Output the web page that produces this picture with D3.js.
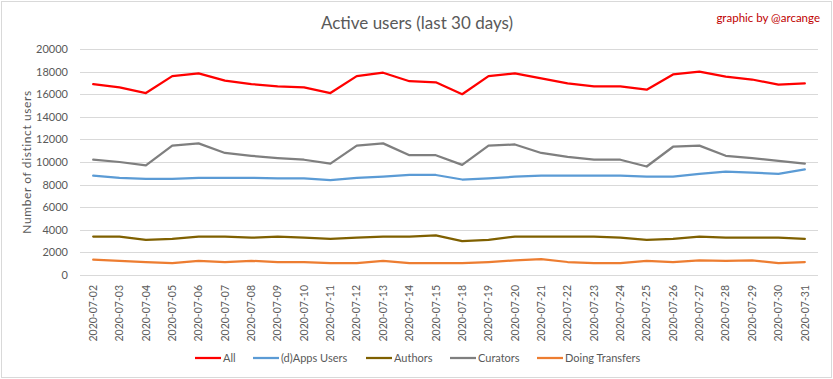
<!DOCTYPE html>
<html>
<head>
<meta charset="utf-8">
<script src="https://cdn.jsdelivr.net/npm/d3@7"></script>
<style>
  body { margin: 0; background: #fff; }
  svg { display: block; font-family: Lato, "Open Sans", sans-serif; }
</style>
</head>
<body>
<div id="chart"></div>
<script>
// Data
const dates = ["2020-07-02", "2020-07-03", "2020-07-04", "2020-07-05", "2020-07-06", "2020-07-07",
  "2020-07-08", "2020-07-09", "2020-07-10", "2020-07-11", "2020-07-12", "2020-07-13", "2020-07-14",
  "2020-07-15", "2020-07-18", "2020-07-19", "2020-07-20", "2020-07-21", "2020-07-22", "2020-07-23",
  "2020-07-24", "2020-07-25", "2020-07-26", "2020-07-27", "2020-07-28", "2020-07-29", "2020-07-30",
  "2020-07-31"];

const allUsers = [16900, 16600, 16100, 17600, 17850, 17200, 16900, 16700, 16600, 16100, 17600, 17900, 17150,
  17050, 16000, 17600, 17850, 17400, 16950, 16700, 16700, 16400, 17750, 18000, 17550, 17300, 16850, 16950];
const appsUsers = [8800, 8600, 8500, 8500, 8600, 8600, 8600, 8550, 8550, 8400, 8600, 8700, 8850,
  8850, 8450, 8550, 8700, 8800, 8800, 8800, 8800, 8700, 8700, 8950, 9150, 9050, 8950, 9350];
const authors = [3400, 3400, 3100, 3200, 3400, 3400, 3300, 3400, 3300, 3200, 3300, 3400, 3400,
  3500, 3000, 3100, 3400, 3400, 3400, 3400, 3300, 3100, 3200, 3400, 3300, 3300, 3300, 3200];
const curators = [10200, 10000, 9700, 11450, 11650, 10800, 10550, 10350, 10200, 9850, 11450, 11650, 10600,
  10600, 9750, 11450, 11550, 10800, 10450, 10200, 10200, 9600, 11350, 11450, 10550, 10350, 10100, 9850];
const transfers = [1350, 1250, 1150, 1050, 1250, 1150, 1250, 1150, 1150, 1050, 1050, 1250, 1050,
  1050, 1050, 1150, 1300, 1400, 1150, 1050, 1050, 1250, 1150, 1300, 1250, 1300, 1050, 1150];

const yTicks = [0, 2000, 4000, 6000, 8000, 10000, 12000, 14000, 16000, 18000, 20000];

const series = [
  { name: "All", values: allUsers, color: "#ff0000" },
  { name: "(d)Apps Users", values: appsUsers, color: "#5b9bd5" },
  { name: "Authors", values: authors, color: "#7f6000" },
  { name: "Curators", values: curators, color: "#7f7f7f" },
  { name: "Doing Transfers", values: transfers, color: "#ed7d31" }
];

const width = 833;
const height = 379;
const margin = { top: 49, right: 15, bottom: 104, left: 80 };

const svg = d3.select("#chart")
  .append("svg")
  .attr("width", width)
  .attr("height", height);

// Chart border
svg.append("rect")
  .attr("x", 1.5).attr("y", 1.5)
  .attr("width", width - 3).attr("height", height - 3)
  .attr("fill", "#fff")
  .attr("stroke", "#d9d9d9");

const x = d3.scaleBand()
  .domain(dates)
  .range([margin.left, width - margin.right]);

const y = d3.scaleLinear()
  .domain([0, 20000])
  .range([height - margin.bottom, margin.top]);

// Gridlines
svg.append("g")
  .selectAll("line")
  .data(yTicks)
  .enter()
  .append("line")
  .attr("x1", margin.left)
  .attr("x2", width - margin.right)
  .attr("y1", d => Math.round(y(d)) + 0.5)
  .attr("y2", d => Math.round(y(d)) + 0.5)
  .attr("stroke", "#d9d9d9");

// Y axis
const yAxis = svg.append("g")
  .attr("transform", `translate(${margin.left},0)`)
  .call(d3.axisLeft(y).tickValues(yTicks).tickSize(0).tickPadding(12).tickFormat(d3.format("d")));
yAxis.select(".domain").remove();
yAxis.selectAll("text")
  .attr("font-size", "11px")
  .attr("font-family", "Lato, sans-serif")
  .attr("fill", "#595959");

// X axis
const xAxis = svg.append("g")
  .attr("transform", `translate(0,${height - margin.bottom})`)
  .call(d3.axisBottom(x).tickSize(0));
xAxis.select(".domain").remove();
xAxis.selectAll("text")
  .attr("font-size", "10.5px")
  .attr("font-family", "Lato, sans-serif")
  .attr("fill", "#595959")
  .attr("text-anchor", "end")
  .attr("transform", "rotate(-90)")
  .attr("x", -10)
  .attr("y", 0)
  .attr("dy", "0.35em");

// Lines
const line = d3.line()
  .x((d, i) => x(dates[i]) + x.bandwidth() / 2)
  .y(d => y(d));

svg.append("g")
  .selectAll("path")
  .data(series)
  .enter()
  .append("path")
  .attr("fill", "none")
  .attr("stroke", d => d.color)
  .attr("stroke-width", 2.25)
  .attr("stroke-linejoin", "round")
  .attr("stroke-linecap", "round")
  .attr("d", d => line(d.values));

// Title
svg.append("text")
  .attr("x", 417)
  .attr("y", 29)
  .attr("text-anchor", "middle")
  .attr("font-size", "17px")
  .attr("fill", "#595959")
  .text("Active users (last 30 days)");

svg.append("text")
  .attr("x", 820)
  .attr("y", 22)
  .attr("text-anchor", "end")
  .attr("font-size", "11.5px")
  .attr("fill", "#c00000")
  .text("graphic by @arcange");

// Y axis label
svg.append("text")
  .attr("transform", "translate(31,162) rotate(-90)")
  .attr("text-anchor", "middle")
  .attr("font-size", "12px")
  .attr("letter-spacing", "0.6px")
  .attr("fill", "#595959")
  .text("Number of distinct users");

// Legend
const legendX = [195, 253, 366, 450, 537];
const legend = svg.append("g")
  .selectAll("g")
  .data(series)
  .enter()
  .append("g")
  .attr("transform", (d, i) => `translate(${legendX[i]},358)`);

legend.append("line")
  .attr("x1", 0).attr("x2", 26)
  .attr("stroke", d => d.color)
  .attr("stroke-width", 2.25);

legend.append("text")
  .attr("x", 28)
  .attr("dy", "0.35em")
  .attr("font-size", "11px")
  .attr("fill", "#595959")
  .text(d => d.name);
</script>
</body>
</html>
